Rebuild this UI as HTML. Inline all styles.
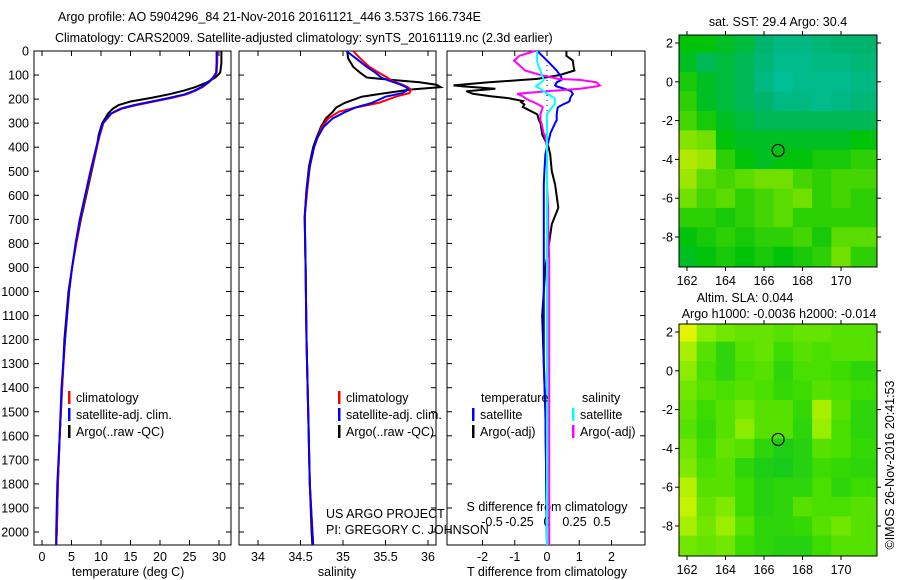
<!DOCTYPE html>
<html><head><meta charset="utf-8"><style>
html,body{margin:0;padding:0;background:#fff}
svg{display:block;font-family:"Liberation Sans",sans-serif}
text{font-size:12.5px;fill:#000}
</style></head><body>
<svg id="c" width="900" height="580" viewBox="0 0 900 580">
<text x="58" y="21">Argo profile: AO 5904296_84 21-Nov-2016 20161121_446 3.537S 166.734E</text>
<text x="55" y="42">Climatology: CARS2009. Satellite-adjusted climatology: synTS_20161119.nc (2.3d earlier)</text>
</svg>
<script>
// ---- profile data ----
const depthT=[0,50,90,110,130,150,165,180,195,210,225,240,260,300,350,400,500,600,700,800,900,1000,1200,1400,1600,1800,2000,2054];
const tempClim=[29.7,29.7,29.6,29.1,28.3,27.2,26.0,24.5,22.0,19.0,16.0,13.5,11.8,10.4,9.8,9.3,8.3,7.4,6.5,5.8,5.1,4.6,3.9,3.4,3.0,2.7,2.5,2.4];
const tempSat=[29.6,29.6,29.5,29.0,28.2,27.0,25.8,24.2,21.6,18.6,15.6,13.3,11.7,10.3,9.7,9.2,8.2,7.3,6.4,5.7,5.1,4.6,3.9,3.3,3.0,2.6,2.4,2.4];
const tempArgo=[30.4,30.4,30.2,29.4,28.0,26.0,24.0,21.5,18.5,15.0,13.0,12.0,11.2,10.2,9.6,9.3,8.4,7.5,6.6,5.8,5.1,4.5,3.8,3.4,3.0,2.7,2.5,2.4];
const depthS=[0,30,66,90,110,120,130,140,150,160,175,190,216,235,253,280,316,360,399,480,578,690,900,1200,1500,1800,2000,2054];
const saltClim=[35.12,35.2,35.31,35.42,35.52,35.56,35.62,35.7,35.76,35.8,35.78,35.62,35.42,35.15,34.95,34.83,34.75,34.7,34.66,34.61,34.58,34.55,34.56,34.57,34.59,34.61,34.64,34.65];
const saltSat=[35.04,35.15,35.28,35.38,35.45,35.52,35.6,35.68,35.74,35.77,35.7,35.5,35.34,35.15,35.03,34.88,34.77,34.7,34.66,34.61,34.57,34.55,34.56,34.57,34.59,34.61,34.64,34.65];
const saltArgo=[35.05,35.06,35.12,35.2,35.28,35.57,35.9,36.1,36.15,35.8,35.5,35.22,35.02,34.92,34.88,34.8,34.74,34.69,34.65,34.6,34.57,34.55,34.56,34.57,34.59,34.61,34.63,34.64];
const depthD=[0,20,40,60,81,100,116,120,130,143,147,157,167,178,188,196,208,213,222,233,236,263,288,300,344,347,400,430,500,555,652,720,860,900,1100,1300,1500,2054];
const dTsat=[-0.3,-0.15,0,0.15,0.3,0.4,0.47,0.45,0.3,0.25,0.3,0.55,0.75,0.8,0.75,0.72,0.7,0.65,0.5,0.35,0.33,0.3,0.3,0.25,0.1,0.1,0,-0.05,-0.08,-0.1,-0.1,-0.1,-0.1,-0.1,-0.1,-0.1,-0.05,0];
const dTargo=[0.6,0.6,0.8,0.82,0.85,0.4,-0.3,-0.75,-1.8,-2.9,-2.6,-1.6,-2.5,-2.3,-1.75,-1.2,-0.75,-0.8,-0.7,-0.75,-0.7,-0.3,-0.25,-0.2,-0.15,-0.15,0.05,0.1,0.15,0.25,0.35,0.15,0,-0.05,-0.15,-0.1,-0.05,0];
const dSsat=[-0.09,-0.09,-0.09,-0.08,-0.06,-0.05,-0.03,-0.03,-0.05,-0.09,-0.1,-0.06,-0.03,0,0.04,0.07,0.07,0.07,0.07,0.05,0.04,0,0,0,0,0,0,0,0,0,0,0,0,0,0,0,0,0];
const dSargo=[-0.11,-0.25,-0.3,-0.25,-0.2,-0.06,0.1,0.3,0.45,0.48,0.45,0.3,0.0,-0.27,-0.22,-0.2,-0.15,-0.12,-0.08,-0.04,-0.04,-0.06,-0.06,-0.05,-0.03,-0.02,0,0,0,0,0.01,0.01,0.02,0.02,0.02,0.02,0.02,0.02];
const depthTicks=[0,100,200,300,400,500,600,700,800,900,1000,1100,1200,1300,1400,1500,1600,1700,1800,1900,2000];
const tempTicks=[0,5,10,15,20,25,30];
const saltTicks=[34,34.5,35,35.5,36];
const dTTicks=[-2,-1,0,1,2];
const dSTicks=[-0.5,-0.25,0,0.25,0.5];
// ---- map data (rows lat 2..-9, cols lon 162..171) ----
const mapLats=[2,1,0,-1,-2,-3,-4,-5,-6,-7,-8,-9];
const mapLons=[162,163,164,165,166,167,168,169,170,171];
const sstGrid=[
[.5,.5,.45,.4,.3,.2,.2,.25,.3,.3],
[.45,.35,.4,.35,.25,.15,.15,.2,.2,.25],
[.55,.45,.4,.35,.2,.1,.15,.15,.15,.2],
[.6,.45,.4,.35,.3,.2,.2,.15,.2,.25],
[.65,.55,.45,.4,.35,.35,.35,.35,.35,.35],
[.8,.75,.5,.45,.45,.45,.45,.45,.45,.5],
[.9,.85,.6,.5,.45,.5,.5,.55,.55,.6],
[.85,.7,.65,.7,.75,.75,.65,.6,.65,.65],
[.75,.65,.7,.6,.65,.7,.75,.6,.65,.6],
[.6,.6,.55,.6,.65,.7,.6,.6,.6,.6],
[.5,.55,.6,.55,.6,.6,.65,.55,.7,.7],
[.45,.5,.55,.5,.55,.5,.55,.6,.75,.6]];
const slaGrid=[
[1,.7,.6,.55,.55,.5,.55,.55,.5,.5],
[.8,.5,.3,.5,.55,.4,.5,.45,.5,.5],
[.7,.45,.3,.45,.5,.3,.45,.45,.4,.3],
[.6,.5,.45,.5,.45,.35,.4,.5,.45,.4],
[.55,.4,.5,.6,.5,.5,.35,.8,.5,.3],
[.5,.35,.5,.7,.5,.5,.3,.75,.45,.3],
[.6,.4,.55,.5,.3,.2,.25,.5,.45,.35],
[.65,.45,.5,.3,.2,.15,.25,.4,.35,.3],
[.85,.5,.5,.4,.25,.3,.3,.45,.3,.4],
[.9,.55,.65,.4,.25,.3,.5,.45,.45,.5],
[.8,.6,.75,.5,.3,.3,.35,.5,.6,.5],
[.6,.55,.6,.4,.3,.25,.25,.4,.5,.5]];
const mapLonTicks=[162,164,166,168,170];
const mapLatTicks=[2,0,-2,-4,-6,-8];
const argoLon=166.734, argoLat=-3.537;

const svg=document.getElementById('c');
const NS='http://www.w3.org/2000/svg';
function mk(tag,attrs,parent){const e=document.createElementNS(NS,tag);for(const k in attrs)e.setAttribute(k,attrs[k]);(parent||svg).appendChild(e);return e;}
function txt(x,y,s,anchor,parent){const t=mk('text',{x:x,y:y,'text-anchor':anchor||'start'},parent);t.textContent=s;return t;}

const yD=d=>51+d*0.2405;
const panels=[
 {name:'temperature',x0:34,x1:231,sx:v=>42+v*5.9},
 {name:'salinity',x0:239,x1:436,sx:v=>258+(v-34)*85},
 {name:'difference',x0:447,x1:645,sx:v=>547+v*32.25,ss:v=>547+v*110}
];
function line(xs,ds,sx,color,name,w){
  let p='';xs.forEach((v,i)=>{p+=(i?'L':'M')+sx(v).toFixed(1)+','+yD(ds[i]).toFixed(1);});
  const e=mk('path',{d:p,fill:'none',stroke:color,'stroke-width':w||2});
  
  
}
panels.forEach((P,pi)=>{
  const g=mk('g',{});
  
  
  mk('rect',{x:P.x0,y:51,width:P.x1-P.x0,height:494,fill:'none',stroke:'#000','stroke-width':1},g);
  depthTicks.forEach(d=>{
    mk('line',{x1:P.x0,x2:P.x0+5,y1:yD(d),y2:yD(d),stroke:'#000'},g);
    mk('line',{x1:P.x1-5,x2:P.x1,y1:yD(d),y2:yD(d),stroke:'#000'},g);
    if(pi===0){const t=txt(29,yD(d)+4.5,String(d),'end',g);}
  });
  const ticks=pi===0?tempTicks:pi===1?saltTicks:dTTicks;
  ticks.forEach(v=>{
    const x=P.sx(v);
    mk('line',{x1:x,x2:x,y1:545,y2:540,stroke:'#000'},g);
    mk('line',{x1:x,x2:x,y1:51,y2:56,stroke:'#000'},g);
    const t=txt(x,561,String(v),'middle',g);
    
    
  });
});
[[128,'temperature (deg C)','temperature-axis-title'],[337,'salinity','salinity-axis-title'],[547,'T difference from climatology','t-diff-axis-title']].forEach(a=>{
  const t=txt(a[0],576,a[1],'middle');});
dSTicks.forEach(v=>{const t=txt(panels[2].ss(v),526,String(v),'middle');});
{const t=txt(547,511,'S difference from climatology','middle');}
mk('line',{x1:547,x2:547,y1:55,y2:160,stroke:'#000','stroke-dasharray':'1,4'});

const P0=panels[0],P1=panels[1],P2=panels[2];
line(tempArgo,depthT,P0.sx,'#000','temp-argo-line');
line(tempClim,depthT,P0.sx,'#f00','temp-clim-line');
line(tempSat,depthT,P0.sx,'#00f','temp-sat-line');
line(saltArgo,depthS,P1.sx,'#000','salt-argo-line');
line(saltClim,depthS,P1.sx,'#f00','salt-clim-line');
line(saltSat,depthS,P1.sx,'#00f','salt-sat-line');
line(dTargo,depthD,P2.sx,'#000','t-diff-argo-line');
line(dTsat,depthD,P2.sx,'#00f','t-diff-sat-line');
line(dSargo,depthD,P2.ss,'#f0f','s-diff-argo-line');
line(dSsat,depthD,P2.ss,'#0ff','s-diff-sat-line');

function leg(x,y,color,label){
  const g=mk('g',{});
  
  
  mk('rect',{x:x,y:y-11,width:2.5,height:13,fill:color},g);
  txt(x+8,y,label,'start',g);
}
[68,338].forEach(x=>{leg(x,402,'#f00','climatology');leg(x,419,'#00f','satellite-adj. clim.');leg(x,436,'#000','Argo(..raw -QC)');});
{const t=txt(481,402,'temperature');}
{const t=txt(582,402,'salinity');}
leg(472,419,'#00f','satellite');leg(472,436,'#000','Argo(-adj)');
leg(572,419,'#0ff','satellite');leg(572,436,'#f0f','Argo(-adj)');
{const t=txt(326,518,'US ARGO PROJECT');}
{const t=txt(326,534,'PI: GREGORY C. JOHNSON');}

function lerp(a,b,t){return a.map((v,i)=>Math.round(v+(b[i]-v)*t));}
function pal(stops,v){for(let i=1;i<stops.length;i++){if(v<=stops[i][0]){const t=(v-stops[i-1][0])/(stops[i][0]-stops[i-1][0]);const c=lerp(stops[i-1][1],stops[i][1],t);return 'rgb('+c.join(',')+')';}}const c=stops[stops.length-1][1];return 'rgb('+c.join(',')+')';}
const sstPal=[[0,[0,195,170]],[0.3,[0,180,110]],[0.5,[0,195,10]],[0.72,[100,222,0]],[1,[220,240,0]]];
const slaPal=[[0,[0,192,40]],[0.4,[60,220,0]],[0.7,[140,236,0]],[1,[225,245,0]]];
function drawMap(y0,grid,stops,name){
  const x0=679,x1=877,y1=y0+232;
  const lx=lon=>687+(lon-162)*19.25;
  const ly=lat=>y0+8+(2-lat)*19.4;
  const g=mk('g',{});
  
  
  const cp='clip'+y0;
  const cl=mk('clipPath',{id:cp},g);mk('rect',{x:x0,y:y0,width:x1-x0,height:y1-y0},cl);
  const cg=mk('g',{'clip-path':'url(#'+cp+')'},g);
  grid.forEach((row,r)=>row.forEach((v,c)=>{
    const la=mapLats[r],lo=mapLons[c];
    const xa=c===0?x0:lx(lo-0.5), xb=c===row.length-1?x1:lx(lo+0.5);
    const ya=r===0?y0:ly(la+0.5), yb=r===grid.length-1?y1:ly(la-0.5);
    const cell=mk('rect',{x:xa,y:ya,width:xb-xa+0.5,height:yb-ya+0.5,fill:pal(stops,v)},cg);
    
    
  }));
  mk('rect',{x:x0,y:y0,width:x1-x0,height:y1-y0,fill:'none',stroke:'#000'},g);
  mapLonTicks.forEach(lo=>{const x=lx(lo);mk('line',{x1:x,x2:x,y1:y0,y2:y0-4,stroke:'#000'},g);mk('line',{x1:x,x2:x,y1:y1,y2:y1+4,stroke:'#000'},g);
    const t=txt(x,y1+18,String(lo),'middle',g);});
  mapLatTicks.forEach(la=>{const y=ly(la);mk('line',{x1:x0,x2:x0-4,y1:y,y2:y,stroke:'#000'},g);mk('line',{x1:x1,x2:x1+4,y1:y,y2:y,stroke:'#000'},g);
    const t=txt(673,y+4.5,String(la),'end',g);});
  const m=mk('circle',{cx:lx(argoLon),cy:ly(argoLat),r:6,fill:'none',stroke:'#000','stroke-width':1.2},g);
  
  
}
drawMap(35,sstGrid,sstPal,'sst-map');
drawMap(324,slaGrid,slaPal,'sla-map');
{const t=txt(778,26,'sat. SST: 29.4  Argo: 30.4','middle');}
{const t=txt(745,302,'Altim. SLA: 0.044','middle');}
{const t=txt(779,318,'Argo h1000: -0.0036 h2000: -0.014','middle');}
{const t=txt(0,0,'©IMOS 26-Nov-2016 20:41:53','middle');t.setAttribute('transform','translate(894,465) rotate(-90)');}
</script>
</body></html>
